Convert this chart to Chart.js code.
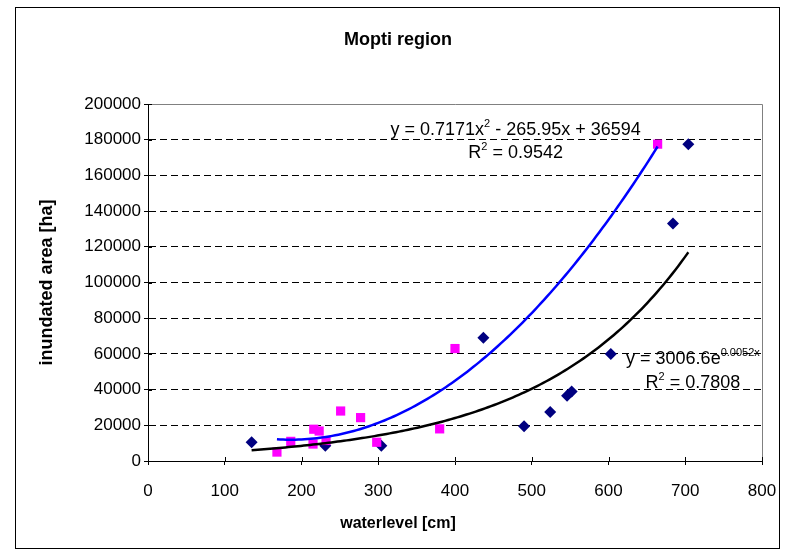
<!DOCTYPE html>
<html>
<head>
<meta charset="utf-8">
<script src="https://cdn.jsdelivr.net/npm/chart.js@4.4.1/dist/chart.umd.min.js"></script>
<style>
  html, body { margin: 0; padding: 0; background: #fff; }
  #wrap { width: 796px; height: 559px; }
</style>
</head>
<body>
<div id="wrap"><canvas id="chart" width="796" height="559"></canvas></div>
<script>
// measured points: water level [cm] vs inundated area [ha]
const diamondX = [135, 231, 304, 437, 490, 524, 546, 552, 603, 684, 704];
const diamondY = [10500, 8600, 8600, 69000, 19500, 27500, 36500, 39000, 60000, 133000, 177500];
const squareX = [168, 186, 215, 216, 223, 232, 251, 277, 298, 380, 400, 664];
const squareY = [5000, 11000, 9500, 17800, 16800, 11500, 28000, 24300, 10500, 18000, 63000, 177500];

// fitted trend lines, coefficients as printed in the equations
const quadCoef = [0.7171, -265.95, 36594];   // a x^2 + b x + c
const expCoef = [3006.6, 0.0052];            // a e^(b x)

const xTicks = [0, 100, 200, 300, 400, 500, 600, 700, 800];
const yTicks = [0, 20000, 40000, 60000, 80000, 100000, 120000, 140000, 160000, 180000, 200000];

const FONT = "'Liberation Sans', Arial, sans-serif";

const diamonds = diamondX.map((x, i) => ({ x, y: diamondY[i] }));
const squares = squareX.map((x, i) => ({ x, y: squareY[i] }));

function sampleLine(fn, x0, x1) {
  const pts = [];
  for (let x = x0; x < x1; x += 4) pts.push({ x, y: fn(x) });
  pts.push({ x: x1, y: fn(x1) });
  return pts;
}
const quadLine = sampleLine(x => quadCoef[0] * x * x + quadCoef[1] * x + quadCoef[2],
  Math.min(...squareX), Math.max(...squareX));
const expLine = sampleLine(x => expCoef[0] * Math.exp(expCoef[1] * x),
  Math.min(...diamondX), Math.max(...diamondX));

// equation boxes, anchored in data units
const equations = [
  { x: 479, lines: [
    [['y = 0.7171x'], ['2', true], [' - 265.95x + 36594']],
    [['R'], ['2', true], [' = 0.9542']]
  ], y: [185400, 172500] },
  { x: 710, lines: [
    [['y = 3006.6e'], ['0.0052x', true]],
    [['R'], ['2', true], [' = 0.7808']]
  ], y: [57100, 43700] }
];

const framePlugin = {
  id: 'frame',
  beforeDraw(chart) {
    const ctx = chart.ctx;
    ctx.save();
    ctx.fillStyle = '#fff';
    ctx.fillRect(0, 0, chart.width, chart.height);
    ctx.strokeStyle = '#000';
    ctx.lineWidth = 1;
    ctx.strokeRect(15.5, 7.5, 764, 541);
    // plot area outline (top and right)
    const a = chart.chartArea;
    ctx.strokeStyle = '#808080';
    ctx.beginPath();
    ctx.moveTo(a.left, a.top + 0.5);
    ctx.lineTo(a.right + 0.5, a.top + 0.5);
    ctx.lineTo(a.right + 0.5, a.bottom);
    ctx.stroke();
    ctx.restore();
  }
};

// tick marks that cross the axis line
const crossTicks = {
  id: 'crossTicks',
  afterDraw(chart) {
    const { ctx, chartArea: a, scales: { x, y } } = chart;
    ctx.save();
    ctx.strokeStyle = '#000';
    ctx.lineWidth = 1;
    ctx.beginPath();
    x.ticks.forEach(t => {
      const px = Math.round(x.getPixelForValue(t.value)) + 0.5;
      ctx.moveTo(px, a.bottom);
      ctx.lineTo(px, a.bottom - 4);
    });
    y.ticks.forEach(t => {
      const py = Math.round(y.getPixelForValue(t.value)) + 0.5;
      ctx.moveTo(a.left, py);
      ctx.lineTo(a.left + 4, py);
    });
    ctx.stroke();
    ctx.restore();
  }
};

function drawRich(ctx, parts, cx, cy, size) {
  const base = size + 'px ' + FONT;
  const sup = Math.round(size * 0.62) + 'px ' + FONT;
  let w = 0;
  parts.forEach(([t, s]) => { ctx.font = s ? sup : base; w += ctx.measureText(t).width; });
  let xPos = cx - w / 2;
  parts.forEach(([t, s]) => {
    ctx.font = s ? sup : base;
    ctx.fillText(t, xPos, s ? cy - size * 0.32 : cy);
    xPos += ctx.measureText(t).width;
  });
}

const eqLabels = {
  id: 'eqLabels',
  afterDatasetsDraw(chart) {
    const { ctx, scales: { x, y } } = chart;
    ctx.save();
    ctx.fillStyle = '#000';
    ctx.textAlign = 'left';
    ctx.textBaseline = 'middle';
    equations.forEach(eq => {
      const cx = x.getPixelForValue(eq.x);
      eq.lines.forEach((parts, i) => drawRich(ctx, parts, cx, y.getPixelForValue(eq.y[i]), 18));
    });
    ctx.restore();
  }
};

new Chart(document.getElementById('chart'), {
  type: 'scatter',
  data: {
    datasets: [
      { label: 'poly', data: quadLine, showLine: true, borderColor: '#0000ff', borderWidth: 2.5,
        pointRadius: 0, order: 0 },
      { label: 'expon', data: expLine, showLine: true, borderColor: '#000000', borderWidth: 2.5,
        pointRadius: 0, order: 0 },
      { label: 'set 2', data: squares, pointStyle: 'rect', pointRadius: 6.5,
        backgroundColor: '#ff00ff', borderColor: '#ff00ff', borderWidth: 0, order: 1 },
      { label: 'set 1', data: diamonds, pointStyle: 'rectRot', pointRadius: 6,
        backgroundColor: '#000080', borderColor: '#000080', borderWidth: 0, order: 2 }
    ]
  },
  options: {
    responsive: false,
    animation: false,
    layout: { padding: { left: 34, right: 34, top: 0, bottom: 0 } },
    plugins: {
      legend: { display: false },
      tooltip: { enabled: false },
      title: {
        display: true, text: 'Mopti region', color: '#000',
        font: { family: FONT, size: 18, weight: 'bold' },
        padding: { top: 29.2, bottom: 53.2 }
      },
      subtitle: {
        display: true, position: 'bottom', text: 'waterlevel [cm]', color: '#000',
        font: { family: FONT, size: 16, weight: 'bold' },
        padding: { top: 8.4, bottom: 25.4 }
      }
    },
    scales: {
      x: {
        type: 'linear', min: 0, max: 800,
        afterBuildTicks: s => { s.ticks = xTicks.map(v => ({ value: v })); },
        afterFit: s => { s.height = 45; },
        grid: { drawOnChartArea: false, tickLength: 4, color: '#000' },
        border: { color: '#000', width: 1 },
        ticks: { color: '#000', padding: 16, maxRotation: 0, font: { family: FONT, size: 17 },
          callback: v => String(v) }
      },
      y: {
        type: 'linear', min: 0, max: 200000,
        afterBuildTicks: s => { s.ticks = yTicks.map(v => ({ value: v })); },
        afterFit: s => { s.width = 114; },
        grid: { tickLength: 4, tickColor: '#000',
          color: c => (c.tick && c.tick.value === 200000 ? '#808080' : '#000') },
        border: { color: '#000', width: 1, dash: [7, 4] },
        ticks: { color: '#000', padding: 3, font: { family: FONT, size: 17 },
          callback: v => String(v) },
        title: {
          display: true, text: 'inundated area [ha]', color: '#000',
          font: { family: FONT, size: 18, weight: 'bold' },
          padding: { top: 2.2, bottom: 0 }
        }
      }
    }
  },
  plugins: [framePlugin, crossTicks, eqLabels]
});
</script>
</body>
</html>
